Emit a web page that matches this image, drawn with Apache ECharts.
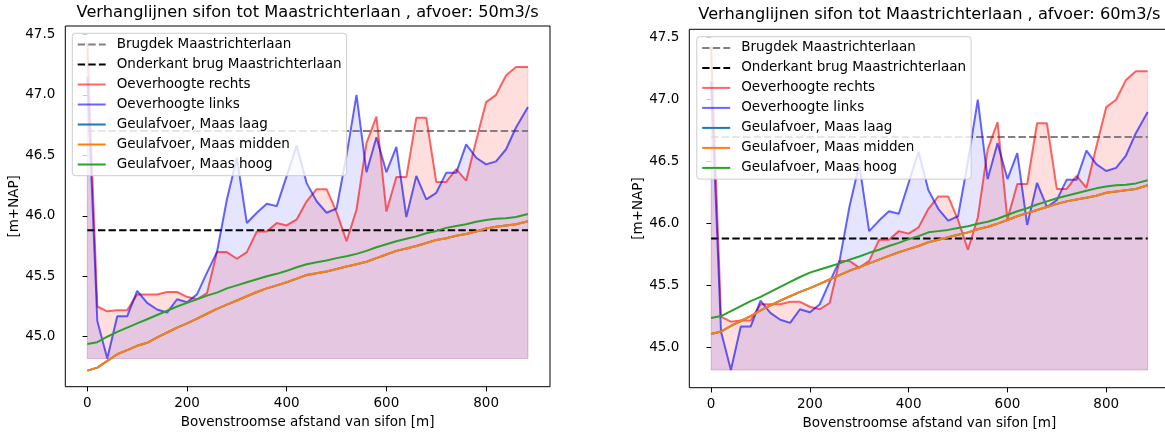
<!DOCTYPE html>
<html>
<head>
<meta charset="utf-8">
<script src="https://cdn.jsdelivr.net/npm/echarts@6/dist/echarts.min.js"></script>
<style>
html,body{margin:0;padding:0;background:#fff;}
#chart{width:1165px;height:432px;}
</style>
</head>
<body>
<div id="chart"></div>
<script>
// ---- data ----
const afstand = [0,20,40,60,80,100,120,140,160,180,200,220,240,260,280,300,320,340,360,380,400,420,440,460,480,500,520,540,560,580,600,620,640,660,680,700,720,740,760,780,800,820,840,860,884];
const oeverRechts = [47.43,45.25,45.21,45.22,45.22,45.35,45.35,45.35,45.37,45.37,45.33,45.31,45.36,45.70,45.70,45.645,45.70,45.87,45.87,45.94,45.92,45.97,46.12,46.22,46.22,46.03,45.79,46.05,46.60,46.82,46.035,46.32,46.32,46.81,46.81,46.28,46.28,46.385,46.29,46.62,46.94,47.00,47.16,47.23,47.23];
const oeverLinks = [47.15,45.13,44.82,45.17,45.17,45.38,45.28,45.225,45.20,45.31,45.285,45.35,45.53,45.70,46.135,46.48,45.94,46.025,46.10,46.08,46.33,46.58,46.27,46.12,46.025,46.06,46.50,47.00,46.36,46.65,46.36,46.57,45.99,46.33,46.135,46.19,46.355,46.355,46.59,46.48,46.425,46.45,46.55,46.73,46.90];
const oeverBodem = 44.82;
const brugdek = 46.70;
const onderkant = 45.88;

const laag50 = [44.72,44.745,44.80,44.855,44.89,44.925,44.95,44.995,45.035,45.075,45.11,45.15,45.19,45.23,45.265,45.30,45.335,45.37,45.40,45.425,45.45,45.48,45.51,45.525,45.54,45.56,45.58,45.60,45.62,45.65,45.68,45.71,45.73,45.75,45.775,45.80,45.815,45.835,45.85,45.87,45.895,45.91,45.92,45.93,45.955];
const midden50 = [44.72,44.745,44.80,44.855,44.89,44.925,44.95,44.995,45.035,45.075,45.11,45.15,45.19,45.23,45.265,45.30,45.335,45.37,45.40,45.425,45.45,45.48,45.51,45.525,45.54,45.56,45.58,45.60,45.62,45.65,45.68,45.71,45.73,45.75,45.775,45.80,45.815,45.835,45.85,45.87,45.895,45.91,45.92,45.93,45.955];
const hoog50 = [44.94,44.955,45.00,45.04,45.075,45.11,45.145,45.18,45.215,45.25,45.28,45.31,45.34,45.365,45.40,45.425,45.45,45.475,45.50,45.52,45.545,45.575,45.60,45.615,45.63,45.65,45.665,45.685,45.71,45.74,45.765,45.79,45.81,45.83,45.855,45.875,45.90,45.915,45.93,45.95,45.965,45.975,45.98,45.99,46.015];

const laag60 = [45.11,45.13,45.175,45.215,45.255,45.30,45.34,45.38,45.415,45.45,45.48,45.515,45.55,45.585,45.62,45.65,45.68,45.71,45.74,45.77,45.795,45.82,45.85,45.87,45.89,45.91,45.93,45.955,45.975,46.00,46.03,46.06,46.085,46.11,46.135,46.16,46.18,46.195,46.21,46.225,46.25,46.26,46.27,46.28,46.31];
const midden60 = [45.11,45.13,45.175,45.215,45.255,45.30,45.34,45.38,45.415,45.45,45.48,45.515,45.55,45.585,45.62,45.65,45.68,45.71,45.74,45.77,45.795,45.82,45.85,45.87,45.89,45.91,45.93,45.955,45.975,46.00,46.03,46.06,46.085,46.11,46.135,46.16,46.18,46.195,46.21,46.225,46.25,46.26,46.27,46.28,46.31];
const hoog60 = [45.24,45.255,45.295,45.335,45.375,45.41,45.45,45.49,45.53,45.57,45.605,45.63,45.655,45.68,45.71,45.735,45.765,45.79,45.82,45.845,45.875,45.90,45.93,45.94,45.95,45.965,45.98,46.00,46.015,46.04,46.07,46.10,46.125,46.155,46.18,46.205,46.225,46.245,46.265,46.285,46.30,46.31,46.315,46.325,46.35];

const xTicks = [0,200,400,600,800];
const yTicks = [45.0,45.5,46.0,46.5,47.0,47.5];
const titles = ['Verhanglijnen sifon tot Maastrichterlaan , afvoer: 50m3/s','Verhanglijnen sifon tot Maastrichterlaan , afvoer: 60m3/s'];
const legendNames = ['Brugdek Maastrichterlaan','Onderkant brug Maastrichterlaan','Oeverhoogte rechts','Oeverhoogte links','Geulafvoer, Maas laag','Geulafvoer, Maas midden','Geulafvoer, Maas hoog'];
const xLabel = 'Bovenstroomse afstand van sifon [m]';
const yLabel = '[m+NAP]';

// ---- layout ----
const FONT = 'DejaVu Sans';
const FS = 13.5;
const grids = [
  {left:65.3, top:26, width:484.7, height:360.7},
  {left:689.3, top:29.3, width:480.2, height:358.4}
];
const xRange = [[-44.2, 928.2],[-44.2, 928.2]];
const yRange = [[44.587, 47.569],[44.677, 47.568]];
const legendPos = [{left:72.3, top:33.3},{left:696.8, top:36.7}];

const pts = ys => afstand.map((x,i)=>[x, ys[i]]);
const flat = v => [[afstand[0], v],[afstand[afstand.length-1], v]];
const last = afstand.length - 1;
const fillEdge = ys => [[afstand[0], ys[0]],[afstand[0], oeverBodem],[afstand[last], oeverBodem],[afstand[last], ys[last]]];

const FILL_R = 'rgba(255,0,0,0.13)';
const FILL_B = 'rgba(0,0,255,0.10)';

function seriesFor(g, laag, midden, hoog){
  const base = {type:'line', xAxisIndex:g, yAxisIndex:g, symbol:'none', smooth:false, animation:false};
  return [
    Object.assign({}, base, {name:'_fillR'+g, data:pts(oeverRechts), z:1, silent:true,
      lineStyle:{width:0, opacity:0}, areaStyle:{color:FILL_R, origin:oeverBodem, opacity:1}}),
    Object.assign({}, base, {name:'_fillL'+g, data:pts(oeverLinks), z:1, silent:true,
      lineStyle:{width:0, opacity:0}, areaStyle:{color:FILL_B, origin:oeverBodem, opacity:1}}),
    Object.assign({}, base, {name:'_edgeR'+g, data:fillEdge(oeverRechts), z:1, silent:true,
      lineStyle:{width:1, color:FILL_R}}),
    Object.assign({}, base, {name:'_edgeL'+g, data:fillEdge(oeverLinks), z:1, silent:true,
      lineStyle:{width:1, color:FILL_B}}),
    Object.assign({}, base, {name:legendNames[0], data:flat(brugdek), z:2,
      lineStyle:{color:'#808080', width:2, type:[7.4,3.2]}, itemStyle:{color:'#808080'}}),
    Object.assign({}, base, {name:legendNames[1], data:flat(onderkant), z:2,
      lineStyle:{color:'#000000', width:2, type:[7.4,3.2]}, itemStyle:{color:'#000000'}}),
    Object.assign({}, base, {name:legendNames[2], data:pts(oeverRechts), z:2,
      lineStyle:{color:'rgba(255,0,0,0.6)', width:2}, itemStyle:{color:'rgba(255,0,0,0.6)'}}),
    Object.assign({}, base, {name:legendNames[3], data:pts(oeverLinks), z:2,
      lineStyle:{color:'rgba(0,0,255,0.6)', width:2}, itemStyle:{color:'rgba(0,0,255,0.6)'}}),
    Object.assign({}, base, {name:legendNames[4], data:pts(laag), z:2,
      lineStyle:{color:'#1f77b4', width:2}, itemStyle:{color:'#1f77b4'}}),
    Object.assign({}, base, {name:legendNames[5], data:pts(midden), z:2,
      lineStyle:{color:'#ff7f0e', width:2}, itemStyle:{color:'#ff7f0e'}}),
    Object.assign({}, base, {name:legendNames[6], data:pts(hoog), z:2,
      lineStyle:{color:'#2ca02c', width:2}, itemStyle:{color:'#2ca02c'}})
  ];
}

const axisText = {fontFamily:FONT, fontSize:FS, color:'#000'};

const option = {
  animation:false,
  backgroundColor:'#ffffff',
  textStyle:{fontFamily:FONT},
  title: titles.map((t,i)=>({
    text:t, left: grids[i].left + grids[i].width/2, top: i===0 ? 4.5 : 6.5, textAlign:'center', padding:0,
    textStyle:{fontFamily:FONT, fontSize:16.2, fontWeight:'normal', color:'#000'}
  })),
  grid: grids.map(g=>Object.assign({show:true, borderColor:'#000', borderWidth:1, backgroundColor:'transparent', containLabel:false, outerBoundsMode:'none'}, g)),
  legend: legendPos.map(p=>({
    data:legendNames, orient:'vertical', left:p.left, top:p.top,
    padding:[4.2,5,4.2,4.4], itemGap:6, itemWidth:28, itemHeight:14,
    backgroundColor:'rgba(255,255,255,0.8)', borderColor:'#cccccc', borderWidth:1, borderRadius:3,
    selectedMode:false,
    itemStyle:{opacity:0},
    textStyle:{fontFamily:FONT, fontSize:FS, color:'#000', padding:[0,0,0,6]}
  })),
  xAxis: [0,1].map(i=>({
    type:'value', gridIndex:i, min:xRange[i][0], max:xRange[i][1],
    name:xLabel, nameLocation:'middle', nameGap:26, nameTextStyle:axisText,
    axisLine:{show:false}, splitLine:{show:false},
    axisTick:{show:true, length:4.7, lineStyle:{color:'#000', width:1}, customValues:xTicks},
    axisLabel:{show:true, margin:9.4, customValues:xTicks, formatter:v=>String(Math.round(v)), fontFamily:FONT, fontSize:FS, color:'#000'}
  })),
  yAxis: [0,1].map(i=>({
    type:'value', gridIndex:i, min:yRange[i][0], max:yRange[i][1],
    name:yLabel, nameLocation:'middle', nameGap: i===0 ? 44 : 41.5, nameTextStyle:axisText,
    axisLine:{show:false}, splitLine:{show:false},
    axisTick:{show:true, length:4.7, lineStyle:{color:'#000', width:1}, customValues:yTicks},
    axisLabel:{show:true, margin:10, customValues:yTicks, formatter:v=>v.toFixed(1), fontFamily:FONT, fontSize:FS, color:'#000'}
  })),
  series: [].concat(seriesFor(0, laag50, midden50, hoog50), seriesFor(1, laag60, midden60, hoog60))
};

const chart = echarts.init(document.getElementById('chart'), null, {renderer:'canvas'});
chart.setOption(option);
</script>
</body>
</html>
